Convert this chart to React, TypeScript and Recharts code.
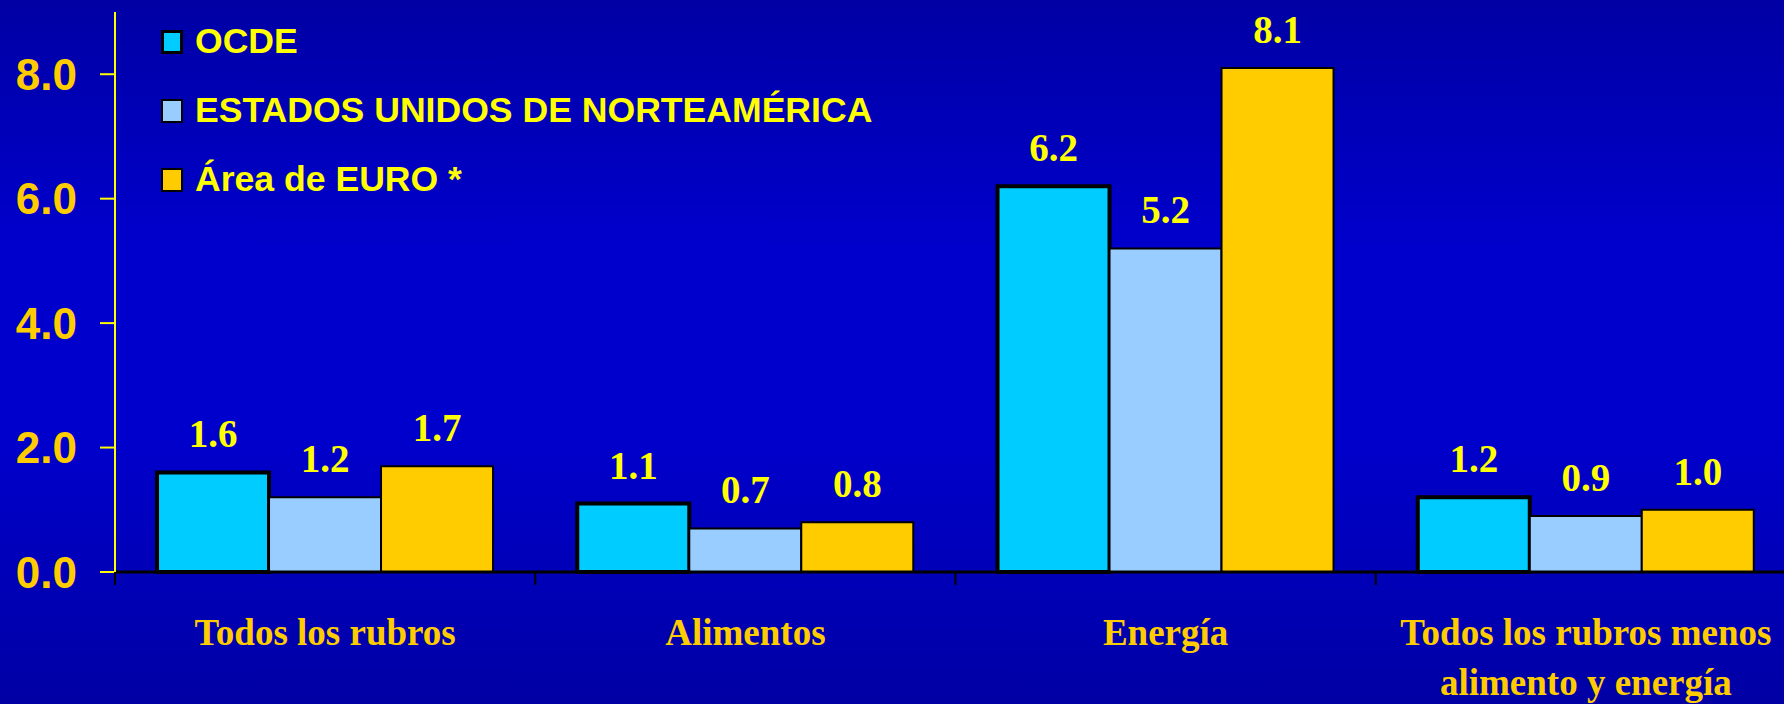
import React from "react";
import { BarChart, Bar, XAxis, YAxis, LabelList } from "recharts";

const categories = ["Todos los rubros", "Alimentos", "Energía", "Todos los rubros menos alimento y energía"];
const categoryLines: Record<string, string[]> = {
  "Todos los rubros": ["Todos los rubros"],
  Alimentos: ["Alimentos"],
  "Energía": ["Energía"],
  "Todos los rubros menos alimento y energía": ["Todos los rubros menos", "alimento y energía"],
};
const ocde = [1.6, 1.1, 6.2, 1.2];
const usa = [1.2, 0.7, 5.2, 0.9];
const euro = [1.7, 0.8, 8.1, 1.0];
const yTicks = [0, 2, 4, 6, 8];

const seriesNames = ["OCDE", "ESTADOS UNIDOS DE NORTEAMÉRICA", "Área de EURO *"];
const seriesKeys = ["ocde", "usa", "euro"];
const seriesColors = ["#00CCFF", "#99CCFF", "#FFCC00"];

const data = categories.map((c, i) => ({ name: c, ocde: ocde[i], usa: usa[i], euro: euro[i] }));

const CHART_W = 1800;
const CHART_H = 704;
const Y_W = 115;
const MARGIN_R = 4;
const HALF_BAND = (CHART_W - Y_W - MARGIN_R) / categories.length / 2;

const SERIF = "'Liberation Serif', 'Times New Roman', serif";
const SANS = "'Liberation Sans', Arial, sans-serif";

// category label under the axis plus the black boundary tick to its left
function CategoryTick(props: any) {
  const { x, y, payload } = props;
  const lines = categoryLines[payload.value] || [payload.value];
  return (
    <g>
      <line x1={x - HALF_BAND} y1={y} x2={x - HALF_BAND} y2={y + 13} stroke="#000" strokeWidth={2} />
      {lines.map((l, i) => (
        <text
          key={i}
          x={x}
          y={y + 73 + i * 50}
          textAnchor="middle"
          fill="#FFCC00"
          fontFamily={SERIF}
          fontWeight="bold"
          fontSize={37}
        >
          {l}
        </text>
      ))}
    </g>
  );
}

function LegendBox() {
  return (
    <div style={{ position: "absolute", left: 161, top: 7 }}>
      {seriesNames.map((n, i) => (
        <div key={n} style={{ display: "flex", alignItems: "center", height: 69 }}>
          <span
            style={{
              display: "inline-block",
              width: i === 0 ? 16 : 18,
              height: i === 0 ? 18 : 20,
              background: seriesColors[i],
              border: `${i === 0 ? 3 : 2}px solid #000`,
              marginRight: 12,
            }}
          />
          <span style={{ color: "#FFFF00", fontFamily: SANS, fontWeight: "bold", fontSize: 35.6, whiteSpace: "nowrap" }}>
            {n}
          </span>
        </div>
      ))}
    </div>
  );
}

const labelStyle = { fill: "#FFFF00", fontFamily: SERIF, fontWeight: "bold", fontSize: 39 } as any;
const fmt = (v: any) => Number(v).toFixed(1);

export default function App() {
  return (
    <div
      style={{
        position: "absolute",
        left: 0,
        top: 0,
        width: 1784,
        height: 704,
        overflow: "hidden",
        background: "linear-gradient(to bottom, #0000A4 0%, #0000CC 35%, #0000CC 62%, #0000A4 100%)",
      }}
    >
      <BarChart
        width={CHART_W}
        height={CHART_H}
        data={data}
        margin={{ top: 12, right: MARGIN_R, left: 0, bottom: 0 }}
        barCategoryGap="10%"
        barGap={0}
      >
        <XAxis
          dataKey="name"
          height={132}
          interval={0}
          tickLine={false}
          tickSize={0}
          tickMargin={0}
          axisLine={{ stroke: "#000", strokeWidth: 3 }}
          tick={(p: any) => <CategoryTick {...p} />}
        />
        <YAxis
          width={Y_W}
          domain={[0, 9]}
          ticks={yTicks}
          interval={0}
          tickSize={15}
          tickMargin={23}
          tickFormatter={fmt}
          axisLine={{ stroke: "#FFFF00", strokeWidth: 2 }}
          tickLine={{ stroke: "#FFFF00", strokeWidth: 2 }}
          tick={{ fill: "#FFCC00", fontFamily: SANS, fontWeight: "bold", fontSize: 44 }}
        />
        {seriesKeys.map((k, i) => (
          <Bar
            key={k}
            dataKey={k}
            name={seriesNames[i]}
            fill={seriesColors[i]}
            stroke="#000"
            strokeWidth={i === 0 ? 4 : 2}
            isAnimationActive={false}
          >
            <LabelList dataKey={k} position="top" offset={25} formatter={fmt} style={labelStyle} />
          </Bar>
        ))}
      </BarChart>
      <LegendBox />
    </div>
  );
}
